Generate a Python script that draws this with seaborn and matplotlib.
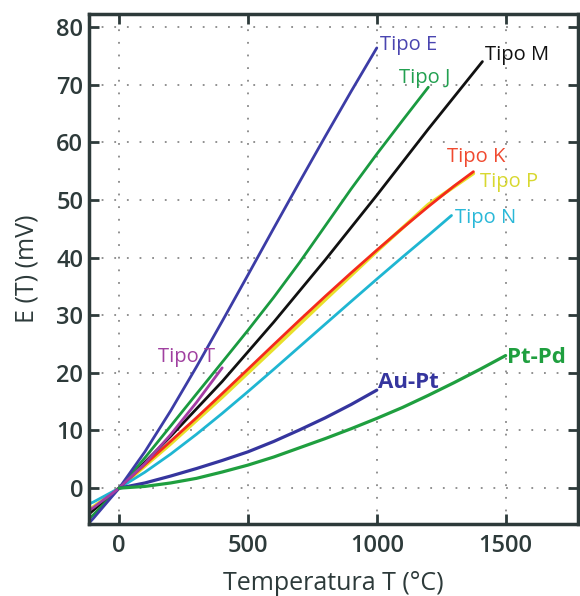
import matplotlib
matplotlib.use("Agg")
import matplotlib.pyplot as plt
import seaborn as sns

# temperatures (degC) and emf (mV)
t_e = [-120, -100, 0, 100, 200, 300, 400, 500, 600, 700, 800, 900, 1000]
e_e = [-6.2, -5.24, 0, 6.32, 13.42, 21.03, 28.95, 36.99, 45.09, 53.11, 61.02, 68.79, 76.37]

t_j = [-120, -100, 0, 100, 200, 300, 400, 500, 600, 700, 800, 900, 1000, 1100, 1200]
e_j = [-5.5, -4.63, 0, 5.27, 10.78, 16.33, 21.85, 27.39, 33.10, 39.13, 45.50, 51.88, 57.95, 63.79, 69.55]

t_m = [-120, 0, 200, 400, 600, 800, 1000, 1200, 1410]
e_m = [-4.6, 0, 9.0, 18.5, 28.8, 39.6, 50.8, 62.3, 74.0]

t_k = [-120, -100, 0, 100, 200, 300, 400, 500, 600, 700, 800, 900, 1000, 1100, 1200, 1300, 1375]
e_k = [-4.2, -3.55, 0, 4.10, 8.14, 12.21, 16.40, 20.64, 24.90, 29.13, 33.28, 37.33, 41.28, 45.12, 48.84, 52.41, 54.9]

t_p = [-120, 0, 200, 400, 600, 800, 1000, 1200, 1375]
e_p = [-3.9, 0, 7.7, 15.8, 24.2, 32.7, 41.1, 49.2, 54.6]

t_n = [-120, -100, 0, 100, 200, 300, 400, 500, 600, 700, 800, 900, 1000, 1100, 1200, 1290]
e_n = [-2.8, -2.41, 0, 2.77, 5.91, 9.34, 12.97, 16.75, 20.61, 24.53, 28.46, 32.37, 36.26, 40.09, 43.85, 47.3]

t_t = [-120, -100, 0, 100, 200, 300, 400]
e_t = [-4.0, -3.38, 0, 4.28, 9.29, 14.86, 20.87]

t_au = [0, 100, 200, 300, 400, 500, 600, 700, 800, 900, 1000]
e_au = [0, 0.9, 2.1, 3.4, 4.8, 6.3, 8.1, 10.1, 12.2, 14.5, 17.0]

t_pd = [0, 100, 200, 300, 400, 500, 600, 700, 800, 900, 1000, 1100, 1200, 1300, 1400, 1500]
e_pd = [0, 0.3, 0.9, 1.7, 2.8, 4.0, 5.4, 7.0, 8.6, 10.3, 12.1, 14.0, 16.1, 18.3, 20.6, 23.0]

sns.set_style("ticks")
plt.rcParams['font.family'] = ['Open Sans', 'DejaVu Sans']

dark = "#2d3a3a"
fig = plt.figure(figsize=(5.8, 5.96), dpi=100)
ax = fig.add_axes([0.153, 0.121, 0.844, 0.855])

lw = 2.0
sns.lineplot(x=t_p, y=e_p, color="#e8e02a", lw=lw + 0.6, ax=ax)
sns.lineplot(x=t_k, y=e_k, color="#f42a1c", lw=lw, ax=ax)
sns.lineplot(x=t_n, y=e_n, color="#1fb6d2", lw=lw, ax=ax)
sns.lineplot(x=t_m, y=e_m, color="#111111", lw=lw, ax=ax)
sns.lineplot(x=t_j, y=e_j, color="#1a9a40", lw=lw, ax=ax)
sns.lineplot(x=t_e, y=e_e, color="#3c3ca6", lw=lw, ax=ax)
sns.lineplot(x=t_t, y=e_t, color="#a43ca4", lw=lw, ax=ax)
sns.lineplot(x=t_au, y=e_au, color="#35359e", lw=lw + 0.3, ax=ax)
sns.lineplot(x=t_pd, y=e_pd, color="#1f9f3f", lw=lw + 0.3, ax=ax)

# curve labels
lab = dict(fontsize=14.5, va="center", ha="left")
ax.text(1012, 76.9, "Tipo E", color="#4a45b0", **lab)
ax.text(1087, 71.1, "Tipo J", color="#22a050", **lab)
ax.text(1421, 75.1, "Tipo M", color="#111111", **lab)
ax.text(1273, 57.4, "Tipo K", color="#f04a30", **lab)
ax.text(1402, 53.1, "Tipo P", color="#d8d830", **lab)
ax.text(1305, 46.8, "Tipo N", color="#2ab8d8", **lab)
ax.text(150, 22.7, "Tipo T", color="#a040a0", **lab)
ax.text(1005, 18.4, "Au-Pt", color="#35359e", fontsize=16, fontweight="bold", va="center")
ax.text(1507, 22.6, "Pt-Pd", color="#1f9f3f", fontsize=16, fontweight="bold", va="center")

ax.set_xlim(-118, 1782)
ax.set_ylim(-6.2, 82.2)
ax.set_xticks([0, 500, 1000, 1500])
ax.set_yticks(range(0, 81, 10))
ax.grid(True, linestyle=(0, (1, 6)), color="#888888", lw=1.3)
ax.tick_params(direction="in", length=7, width=2, color=dark, top=True, right=True,
               labelsize=17, labelcolor=dark)
ax.tick_params(axis="x", pad=7)
ax.tick_params(axis="y", pad=4)
for t in ax.get_xticklabels() + ax.get_yticklabels():
    t.set_fontweight("semibold")
for sp in ax.spines.values():
    sp.set_linewidth(2.5)
    sp.set_color(dark)
    sp.set_visible(True)

ax.set_xlabel("Temperatura T (°C)", fontsize=18, color=dark, labelpad=10)
ax.set_ylabel("E (T) (mV)", fontsize=18, color=dark, labelpad=12)

fig.savefig("out.png", dpi=100)
